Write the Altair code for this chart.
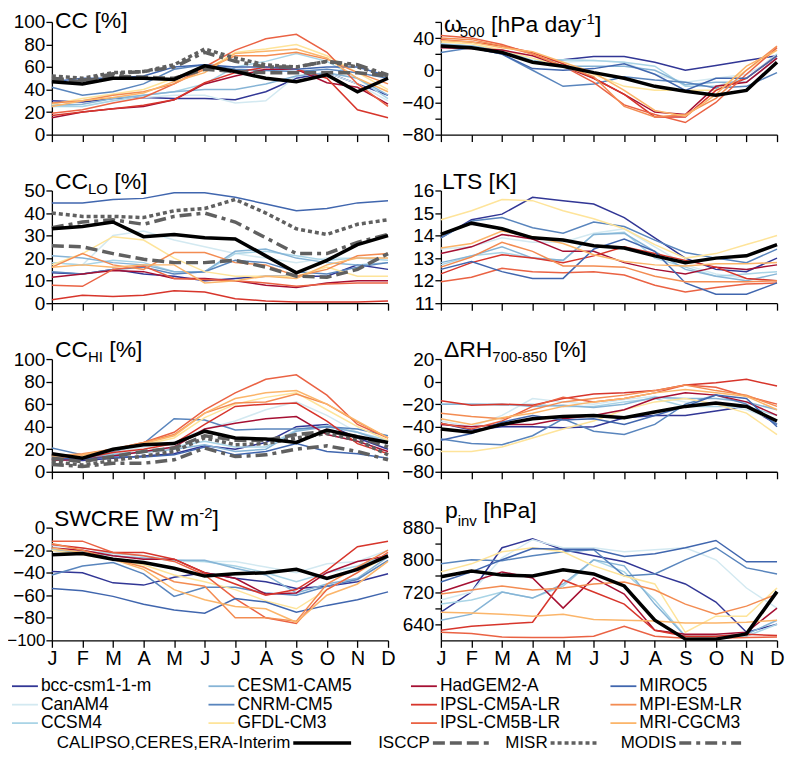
import altair as alt
import pandas as pd

FONT = "Liberation Sans"
MONTHS = ["J", "F", "M", "A", "M", "J", "J", "A", "S", "O", "N", "D"]

MODELS = ["bcc-csm1-1-m", "CanAM4", "CCSM4", "CESM1-CAM5", "CNRM-CM5", "GFDL-CM3",
          "HadGEM2-A", "IPSL-CM5A-LR", "IPSL-CM5B-LR", "MIROC5", "MPI-ESM-LR", "MRI-CGCM3"]
COLORS = ["#313695", "#d3e9f1", "#a9d4e6", "#86b4d6", "#5985bd", "#fee49a",
          "#a50f32", "#d7352b", "#ea6243", "#4066ae", "#f38c52", "#fbb56a"]

OBS_NAMES = ["CALIPSO,CERES,ERA-Interim", "ISCCP", "MISR", "MODIS"]

# ---------------- model values (J..D) ----------------
CC = {
    "bcc-csm1-1-m": [30, 29, 32, 33, 32, 32, 31, 38, 50, 55, 45, 35],
    "CanAM4": [27, 25, 30, 33, 35, 35, 28, 30, 52, 55, 45, 30],
    "CCSM4": [25, 25, 30, 35, 38, 45, 60, 65, 72, 65, 50, 32],
    "CESM1-CAM5": [26, 27, 32, 35, 38, 40, 40, 45, 52, 55, 50, 35],
    "CNRM-CM5": [42, 35, 38, 45, 58, 62, 58, 57, 56, 58, 55, 50],
    "GFDL-CM3": [27, 32, 36, 40, 50, 57, 73, 76, 80, 70, 55, 40],
    "HadGEM2-A": [15, 20, 23, 25, 31, 45, 52, 58, 58, 46, 42, 27],
    "IPSL-CM5A-LR": [17, 20, 23, 26, 31, 46, 55, 60, 58, 50, 22, 15],
    "IPSL-CM5B-LR": [19, 22, 28, 33, 45, 60, 75, 85, 89, 73, 45, 25],
    "MIROC5": [47, 50, 50, 52, 60, 62, 60, 60, 58, 60, 60, 52],
    "MPI-ESM-LR": [28, 30, 35, 38, 45, 58, 70, 70, 73, 67, 55, 45],
    "MRI-CGCM3": [25, 30, 33, 37, 47, 55, 72, 74, 76, 68, 50, 38],
}
OMEGA = {
    "bcc-csm1-1-m": [30, 28, 22, 10, 13, 17, 17, 10, 0, 6, 12, 18],
    "CanAM4": [28, 30, 25, 12, 10, 12, 10, -5, -15, -10, -5, 15],
    "CCSM4": [33, 30, 25, 12, 13, 12, 10, 5, -20, -20, -10, 20],
    "CESM1-CAM5": [32, 30, 24, 10, 5, 5, 5, 0, -18, -15, -15, 15],
    "CNRM-CM5": [22, 28, 20, 0, -20, -17, -8, -12, -15, -22, -20, -3],
    "GFDL-CM3": [35, 33, 25, 15, 5, -5, -20, -25, -25, -25, 0, 25],
    "HadGEM2-A": [28, 27, 25, 18, 5, -10, -30, -52, -55, -20, -15, 15],
    "IPSL-CM5A-LR": [38, 35, 30, 22, 8, -10, -30, -58, -58, -25, -10, 18],
    "IPSL-CM5B-LR": [43, 40, 32, 20, 5, -15, -43, -55, -65, -40, -5, 28],
    "MIROC5": [30, 28, 20, 2, 0, 2, 8, -5, -25, -10, -10, 18],
    "MPI-ESM-LR": [40, 38, 30, 20, 5, -8, -45, -58, -55, -35, 0, 30],
    "MRI-CGCM3": [37, 35, 28, 23, 10, -3, -25, -50, -57, -30, 5, 25],
}
CCLO = {
    "bcc-csm1-1-m": [13.5, 13, 15, 13, 12, 10, 11, 12, 12, 12, 17, 15],
    "CanAM4": [18, 17, 30, 32, 28, 25, 22, 20, 18, 20, 20, 20],
    "CCSM4": [18, 17, 19, 18, 14, 14, 22, 23, 21, 19, 20, 19],
    "CESM1-CAM5": [21, 20, 18, 17, 14, 14, 23, 24, 20, 18, 17, 18],
    "CNRM-CM5": [14, 13, 15, 16, 13, 14, 19, 18, 14, 13, 16, 18],
    "GFDL-CM3": [17, 22, 29.5, 28, 20, 14, 12, 12, 12, 16, 12, 12],
    "HadGEM2-A": [11.5, 13, 14.5, 14, 11, 11, 10, 8, 7, 9, 10, 10],
    "IPSL-CM5A-LR": [1.5, 3.5, 3, 3.5, 5.5, 5, 2, 1, 0.5, 0.5, 0.5, 1],
    "IPSL-CM5B-LR": [8, 7.5, 15, 16.5, 11, 10.5, 10, 9, 7.5, 8.5, 9, 9],
    "MIROC5": [44.5, 44.5, 46, 46.5, 49, 49, 47, 44, 41, 42, 44.5, 45.5],
    "MPI-ESM-LR": [16, 22, 17, 15, 22.5, 22.5, 18, 17, 12, 15, 21, 22],
    "MRI-CGCM3": [16, 17, 16, 17, 17, 9, 10, 12, 11, 17, 20, 20],
}
LTS = {
    "bcc-csm1-1-m": [13.9, 14.7, 14.95, 15.7, 15.55, 15.4, 14.8, 13.9, 13.0, 12.5, 12.4, 13.0],
    "CanAM4": [13.4, 13.5, 13.9, 13.7, 13.7, 14.1, 14.3, 13.5, 12.7, 12.3, 12.1, 12.0],
    "CCSM4": [12.7, 13.1, 13.25, 13.0, 12.9, 14.05, 14.15, 13.0, 12.6, 12.2, 12.3, 12.4],
    "CESM1-CAM5": [12.8, 13.1, 13.5, 13.0, 12.9, 14.05, 14.1, 13.3, 12.5, 12.2, 12.0, 12.3],
    "CNRM-CM5": [13.9, 14.65, 14.8, 14.35, 14.1, 14.6, 14.4, 13.8, 13.25, 13.0, 12.8, 13.4],
    "GFDL-CM3": [14.7, 15.1, 15.6, 15.55, 15.1, 14.75, 14.3, 13.6, 13.0, 13.2, 13.6, 14.0],
    "HadGEM2-A": [13.2, 13.5, 14.05, 13.85, 13.3, 13.3, 12.8, 12.5, 12.3, 12.6, 12.5, 12.7],
    "IPSL-CM5A-LR": [12.3, 12.8, 13.15, 13.0, 12.8, 13.1, 13.5, 13.2, 12.9, 12.6, 12.1, 12.0],
    "IPSL-CM5B-LR": [11.95, 12.15, 12.55, 12.4, 12.35, 12.4, 12.25, 11.8, 11.5, 11.7, 11.85, 11.9],
    "MIROC5": [12.5, 12.85, 12.4, 12.1, 12.1, 13.4, 13.85, 13.3, 11.9, 11.4, 11.4, 11.9],
    "MPI-ESM-LR": [12.6, 13.05, 13.7, 13.3, 12.65, 12.65, 12.6, 12.2, 11.95, 11.95, 11.95, 12.0],
    "MRI-CGCM3": [13.45, 13.65, 14.2, 13.95, 13.65, 13.15, 12.85, 12.7, 12.65, 12.75, 12.75, 12.8],
}
CCHI = {
    "bcc-csm1-1-m": [11, 10, 12, 14, 16, 23, 20, 26, 40, 42, 30, 20],
    "CanAM4": [12, 14, 18, 22, 26, 38, 45, 55, 62, 50, 35, 25],
    "CCSM4": [15, 13, 16, 18, 22, 27, 22, 22, 37, 41, 35, 28],
    "CESM1-CAM5": [14, 12, 15, 17, 20, 24, 18, 20, 36, 40, 35, 26],
    "CNRM-CM5": [21, 15, 18, 25, 47, 46, 37, 38, 38, 40, 38, 32],
    "GFDL-CM3": [12, 14, 19, 24, 30, 48, 60, 66, 70, 55, 40, 28],
    "HadGEM2-A": [10, 11, 14, 18, 22, 38, 43, 47, 49, 33, 27, 18],
    "IPSL-CM5A-LR": [12, 12, 17, 20, 25, 42, 58, 60, 61, 45, 25, 16],
    "IPSL-CM5B-LR": [15, 15, 20, 26, 35, 55, 70, 82, 86, 68, 42, 30],
    "MIROC5": [12, 11, 13, 13, 15, 22, 15, 18, 25, 18, 16, 12],
    "MPI-ESM-LR": [14, 16, 20, 26, 33, 52, 61, 62, 69, 60, 44, 30],
    "MRI-CGCM3": [14, 15, 20, 25, 32, 52, 65, 70, 72, 60, 45, 30],
}
DRH = {
    "bcc-csm1-1-m": [-37, -43, -40, -40, -41, -40, -32, -30, -30, -26, -22, -38],
    "CanAM4": [-35, -40, -30, -15, -18, -20, -16, -13, -18, -20, -25, -35],
    "CCSM4": [-20, -20, -21, -20, -22, -22, -18, -15, -22, -22, -22, -30],
    "CESM1-CAM5": [-20, -20, -20, -22, -21, -23, -20, -14, -15, -15, -18, -25],
    "CNRM-CM5": [-51, -55, -56, -48, -33, -44, -47, -38, -20, -12, -20, -38],
    "GFDL-CM3": [-62, -62, -58, -50, -42, -35, -25, -18, -15, -20, -28, -47],
    "HadGEM2-A": [-38, -40, -38, -38, -33, -30, -25, -15, -10, -12, -18, -30],
    "IPSL-CM5A-LR": [-17, -21, -20, -21, -15, -11, -10, -8, -3, -1, 2, -4],
    "IPSL-CM5B-LR": [-37, -42, -35, -22, -14, -18, -15, -10, -3, -5, -13, -20],
    "MIROC5": [-52, -46, -36, -30, -34, -33, -38, -30, -22, -12, -15, -40],
    "MPI-ESM-LR": [-28, -31, -33, -25, -18, -15, -12, -8, -3, -8, -12, -22],
    "MRI-CGCM3": [-33, -38, -32, -28, -22, -18, -15, -10, -7, -10, -13, -25],
}
SWCRE = {
    "bcc-csm1-1-m": [-39, -40, -49, -51, -44, -40, -45, -48, -54, -52, -48, -41],
    "CanAM4": [-16, -18, -22, -25, -30, -30, -30, -35, -40, -32, -30, -20],
    "CCSM4": [-19, -21, -23, -25, -29, -30, -34, -40, -48, -40, -34, -24],
    "CESM1-CAM5": [-20, -22, -25, -27, -29, -29, -36, -42, -58, -50, -45, -26],
    "CNRM-CM5": [-42, -34, -31, -41, -61, -53, -53, -58, -60, -52, -46, -29],
    "GFDL-CM3": [-20, -24, -28, -33, -42, -48, -55, -65, -72, -55, -40, -25],
    "HadGEM2-A": [-18, -20, -25, -28, -28, -40, -45, -59, -58, -40, -30, -25],
    "IPSL-CM5A-LR": [-15, -18, -22, -22, -28, -40, -50, -60, -55, -38, -17, -12],
    "IPSL-CM5B-LR": [-12, -12, -22, -25, -30, -42, -63, -80, -85, -55, -40, -22],
    "MIROC5": [-54, -56, -61, -68, -73, -76, -63, -66, -75, -69, -64, -57],
    "MPI-ESM-LR": [-14, -20, -28, -35, -48, -52, -80, -80, -83, -50, -35, -20],
    "MRI-CGCM3": [-18, -22, -28, -37, -55, -64, -70, -72, -84, -60, -50, -30],
}
PINV = {
    "bcc-csm1-1-m": [670, 720, 830, 852, 825, 810, 795, 765, 740, 695, 620, 640],
    "CanAM4": [700, 720, 805, 850, 830, 830, 820, 825, 830, 800, 730, 680],
    "CCSM4": [690, 700, 720, 705, 735, 800, 770, 700, 610, 605, 610, 640],
    "CESM1-CAM5": [650, 665, 720, 705, 740, 800, 785, 690, 610, 610, 615, 650],
    "CNRM-CM5": [790, 800, 798, 810, 820, 825, 760, 765, 800, 830, 780, 765],
    "GFDL-CM3": [770, 790, 820, 830, 820, 785, 760, 740, 620, 660, 660, 730],
    "HadGEM2-A": [720, 745, 770, 755, 680, 755, 715, 625, 615, 615, 620, 680],
    "IPSL-CM5A-LR": [625, 635, 640, 645, 750, 720, 690, 625, 610, 610, 615, 612],
    "IPSL-CM5B-LR": [620, 617, 608, 607, 607, 610, 635, 610, 605, 605, 607, 608],
    "MIROC5": [745, 770, 800, 828, 826, 826, 808, 815, 830, 848, 795, 795],
    "MPI-ESM-LR": [715, 725, 735, 725, 730, 740, 745, 725, 690, 665, 685, 715],
    "MRI-CGCM3": [670, 668, 665, 660, 665, 652, 650, 648, 643, 643, 645, 650],
}

# ---------------- observations ----------------
REF = {  # CALIPSO (clouds), CERES (SWCRE), ERA-Interim (meteorology)
    "CC": [47, 45, 50, 50, 49, 61, 56, 50, 47, 53, 38, 50],
    "OMEGA": [30, 28, 22, 10, 5, -3, -10, -20, -26, -31, -25, 10],
    "CCLO": [33, 34, 36, 29.5, 30.5, 29, 28.5, 21, 13.5, 19, 26, 30],
    "LTS": [14.05, 14.55, 14.3, 13.9, 13.8, 13.55, 13.45, 13.1, 12.8, 13.0, 13.1, 13.6],
    "CCHI": [16, 12, 20, 24, 25, 36, 30, 29, 26, 37, 31, 26],
    "DRH": [-42, -45, -38, -33, -31, -30, -32, -27, -22, -19, -22, -35],
    "SWCRE": [-24, -23, -28, -31, -36, -43, -41, -40, -37, -45, -37, -25],
    "PINV": [758, 772, 762, 760, 775, 765, 735, 650, 603, 603, 616, 721],
}
ISCCP = {
    "CC": [48, 47, 52, 51, 50, 58, 56, 55, 55, 55, 55, 52],
    "CCLO": [25.5, 25, 22, 19.5, 18, 18, 19, 16, 12, 11.5, 15, 22],
    "CCHI": [12, 9, 13.5, 18, 21, 32, 28, 28, 33, 36, 31, 22],
}
MISR = {
    "CC": [52, 50, 55, 56, 62, 76, 68, 62, 60, 65, 60, 52],
    "CCLO": [40, 38.5, 38.5, 38, 41, 42, 46, 40, 33, 30.5, 35, 37],
    "CCHI": [9, 6, 10, 14, 18, 30, 24, 25, 30, 34, 28, 15],
}
MODIS = {
    "CC": [50, 48, 54, 56, 60, 73, 65, 60, 60, 65, 62, 53],
    "CCLO": [33.5, 36, 37, 35, 38.5, 40, 36, 29, 22, 22, 27, 30.5],
    "CCHI": [6.5, 4.7, 7.6, 7.6, 10.6, 21, 13.5, 15, 20, 23, 18, 10.6],
}

# ---------------- styles / layout ----------------
W, H = 337, 113
MAIN_FS, SMALL_FS = 23, 15
GREY = "#606060"
OBS_STYLE = {
    "CALIPSO,CERES,ERA-Interim": dict(color="black", strokeWidth=3.5),
    "ISCCP": dict(color=GREY, strokeWidth=3.5, strokeDash=[12, 5]),
    "MISR": dict(color=GREY, strokeWidth=3.5, strokeDash=[4, 3]),
    "MODIS": dict(color=GREY, strokeWidth=3.5, strokeDash=[12, 5, 4, 5]),
}

CHARW = {"C": 722, " ": 278, "[": 278, "]": 278, "%": 889, "L": 556, "O": 778, "H": 722,
         "I": 278, "T": 611, "S": 667, "K": 667, "W": 944, "R": 722, "E": 667, "m": 833,
         "h": 556, "P": 667, "a": 556, "d": 556, "y": 500, "p": 556, "i": 222, "n": 556,
         "v": 500, "-": 333, "\u03c9": 690, "\u0394": 668}


def text_width(s, fs):
    return sum(CHARW.get(c, 556) for c in s) / 1000 * fs


PANELS = [
    dict(key="CC", data=CC, dom=[0, 100], vals=list(range(0, 101, 20)), expr=None,
         title=[("CC [%]", "n")], tx=3, tb=6),
    dict(key="OMEGA", data=OMEGA, dom=[-80, 60], vals=list(range(-80, 61, 20)),
         expr="datum.value % 40 == 0 ? datum.label : ''",
         title=[("\u03c9", "n"), ("500", "sub"), (" [hPa day", "n"), ("-1", "sup"), ("]", "n")],
         tx=3, tb=10),
    dict(key="CCLO", data=CCLO, dom=[0, 50], vals=list(range(0, 51, 10)), expr=None,
         title=[("CC", "n"), ("LO", "sub"), (" [%]", "n")], tx=3, tb=-1.5),
    dict(key="LTS", data=LTS, dom=[11, 16], vals=list(range(11, 17)), expr=None,
         title=[("LTS [K]", "n")], tx=1, tb=-1),
    dict(key="CCHI", data=CCHI, dom=[0, 100], vals=list(range(0, 101, 20)), expr=None,
         title=[("CC", "n"), ("HI", "sub"), (" [%]", "n")], tx=3, tb=-2.5),
    dict(key="DRH", data=DRH, dom=[-80, 20], vals=list(range(-80, 21, 20)), expr=None,
         title=[("\u0394RH", "n"), ("700-850", "sub"), (" [%]", "n")], tx=3, tb=-2),
    dict(key="SWCRE", data=SWCRE, dom=[-100, 0], vals=list(range(-100, 1, 20)), expr=None,
         title=[("SWCRE [W m", "n"), ("-2", "sup"), ("]", "n")], tx=2, tb=-1.5),
    dict(key="PINV", data=PINV, dom=[600, 880], vals=list(range(640, 881, 40)),
         expr="(datum.value - 640) % 80 == 0 ? datum.label : ''",
         title=[("p", "n"), ("inv", "sub"), (" [hPa]", "n")], tx=4, tb=-9.5),
]

month_expr = "[" + ",".join("'%s'" % m for m in MONTHS) + "][datum.value]"
color_scale = alt.Scale(domain=MODELS, range=COLORS)


def long_df(d):
    return pd.DataFrame([{"s": k, "m": i, "v": v} for k, vals in d.items() for i, v in enumerate(vals)])


def make_panel(p, bottom):
    xaxis = dict(values=list(range(12)), title=None, labels=bottom, labelExpr=month_expr,
                 tickSize=7, labelFontSize=20, labelPadding=1, labelFlush=False,
                 labelFont=FONT, labelColor="black", domainColor="black", tickColor="black",
                 domainWidth=1.3, tickWidth=1.3, grid=False)
    yaxis = dict(values=p["vals"], title=None, tickSize=6, labelPadding=1,
                 labelFontSize=alt.condition("datum.value <= -100", alt.value(17), alt.value(19)),
                 labelFont=FONT, labelColor="black", domainColor="black", tickColor="black",
                 domainWidth=1.3, tickWidth=1.3, grid=False, labelOverlap=False)
    if p["expr"]:
        yaxis["labelExpr"] = p["expr"]
    x = alt.X("m:Q", scale=alt.Scale(domain=[0, 11], nice=False, zero=False), axis=alt.Axis(**xaxis))
    y = alt.Y("v:Q", scale=alt.Scale(domain=p["dom"], nice=False, zero=False), axis=alt.Axis(**yaxis))

    layers = [alt.Chart(long_df(p["data"])).mark_line(strokeWidth=1.5).encode(
        x=x, y=y, color=alt.Color("s:N", scale=color_scale, legend=None))]
    key = p["key"]
    for name, src in (("ISCCP", ISCCP), ("MISR", MISR), ("MODIS", MODIS)):
        if key in src:
            df = pd.DataFrame({"m": list(range(12)), "v": src[key]})
            layers.append(alt.Chart(df).mark_line(**OBS_STYLE[name]).encode(x=x, y=y))
    df = pd.DataFrame({"m": list(range(12)), "v": REF[key]})
    layers.append(alt.Chart(df).mark_line(**OBS_STYLE["CALIPSO,CERES,ERA-Interim"]).encode(x=x, y=y))

    # title built from segments (subscripts / superscripts)
    cx = p["tx"]
    sub_shift = 8 if key == "PINV" else 5
    for txt, kind in p["title"]:
        fs = MAIN_FS if kind == "n" else SMALL_FS
        lead = len(txt) - len(txt.lstrip(" "))
        cx += text_width(" " * lead, fs)
        t = txt.lstrip(" ")
        yy = p["tb"] + (sub_shift if kind == "sub" else (-8 if kind == "sup" else 0))
        layers.append(alt.Chart(pd.DataFrame({"t": [t]})).mark_text(
            align="left", baseline="alphabetic", fontSize=fs, font=FONT, color="black"
        ).encode(text="t:N", x=alt.value(cx), y=alt.value(yy)))
        cx += text_width(t, fs)
    return alt.layer(*layers).properties(width=W, height=H)


panels = [make_panel(p, i >= 6) for i, p in enumerate(PANELS)]

# ---------------- legend (pixel layout relative to its own view) ----------------
COL_X = [-40, 157, 360, 560]
ROW_Y = [-10, 8.5, 27]
SYM_LEN = 26
LEG_FS = 17.5
leg = pd.DataFrame([{"s": m, "sx": COL_X[i // 3], "ex": COL_X[i // 3] + SYM_LEN,
                     "tx": COL_X[i // 3] + 29, "py": ROW_Y[i % 3]} for i, m in enumerate(MODELS)])
leg_rules = alt.Chart(leg).mark_rule(strokeWidth=1.8).encode(
    x=alt.X("sx:Q", scale=None, axis=None), x2="ex:Q",
    y=alt.Y("py:Q", scale=None, axis=None),
    color=alt.Color("s:N", scale=color_scale, legend=None))
leg_text = alt.Chart(leg).mark_text(align="left", baseline="middle", fontSize=LEG_FS, font=FONT,
                                    color="black").encode(
    x=alt.X("tx:Q", scale=None, axis=None), y=alt.Y("py:Q", scale=None, axis=None), text="s:N")

OBS_Y = 47
OBS_SYM = [(242, 300), (382, 438), (500, 548), (629, 691)]
obs_layers = []
for name, (a, b) in zip(OBS_NAMES, OBS_SYM):
    st = dict(OBS_STYLE[name])
    obs_layers.append(alt.Chart(pd.DataFrame({"t": [name]})).mark_rule(**st).encode(
        x=alt.value(a), x2=alt.value(b), y=alt.value(OBS_Y)))
    obs_layers.append(alt.Chart(pd.DataFrame({"t": [name]})).mark_text(
        align="right", baseline="middle", fontSize=17, font=FONT, color="black"
    ).encode(text="t:N", x=alt.value(a - 3), y=alt.value(OBS_Y)))

legend = alt.layer(leg_rules, leg_text, *obs_layers).properties(width=W, height=40)

chart = alt.concat(*panels, legend, columns=2, spacing={"row": 56, "column": 53},
                   bounds="flush").properties(
    padding={"left": -2, "top": 1, "right": 0, "bottom": 0}
).configure_view(strokeWidth=0)

chart.save("out.html", embed_options={"renderer": "svg", "actions": False})
